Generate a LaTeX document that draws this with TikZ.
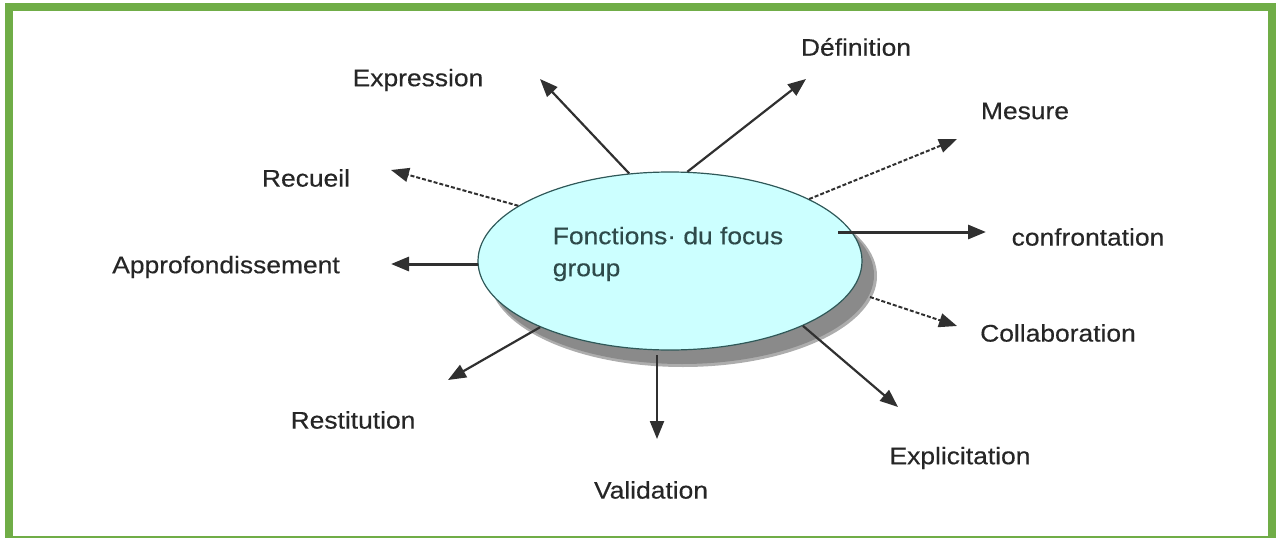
\documentclass[tikz,border=0pt]{standalone}
\usepackage{fontspec}
\setmainfont{Liberation Sans}[FakeStretch=1.1,FakeBold=0.4]
\usetikzlibrary{arrows.meta,shapes.geometric}
\definecolor{framegreen}{HTML}{70AD47}
\definecolor{ellfill}{HTML}{CCFFFF}
\definecolor{elldraw}{HTML}{2F5858}
\definecolor{elltext}{HTML}{2E4A4A}
\definecolor{shadowgray}{HTML}{8A8A8A}
\definecolor{arrowgray}{HTML}{303030}
\tikzset{
  lbl/.style={font=\fontsize{24}{28}\selectfont, text=black!85, inner sep=0pt, anchor=center},
  conn/.style={draw=arrowgray, line width=2.2pt, -{Triangle[length=18pt,width=14pt]}},
  thickconn/.style={conn, line width=3pt},
  dashconn/.style={conn, line width=2pt, dash pattern=on 4pt off 2pt},
}
\begin{document}
\begin{tikzpicture}[x=1pt,y=-1pt]
\useasboundingbox (0,0) rectangle (1278,538);
\begin{scope}
\clip (0,0) rectangle (1278,538);
\draw[framegreen, line width=8pt] (9,7) rectangle (1272,539.5);
\end{scope}
% shadow and ellipse
\node[ellipse, fill=shadowgray!70, minimum width=388pt, minimum height=182pt, inner sep=0pt] (sh0) at (683,276) {};
\node[ellipse, fill=shadowgray, minimum width=384pt, minimum height=178pt, inner sep=0pt] (sh) at (682,275) {};
\node[ellipse, fill=ellfill, draw=elldraw, line width=1.2pt, minimum width=384pt, minimum height=178pt, inner sep=0pt] (e) at (670,261) {};
\node[font=\fontsize{24}{32}\selectfont, text=elltext, align=left, inner sep=0pt] (et) at (668,254) {Fonctions· du focus\\group};
% labels
\node[lbl] (expr) at (418,80) {Expression};
\node[lbl] (def) at (856,47) {Définition};
\node[lbl] (mes) at (1025,111) {Mesure};
\node[lbl] (conf) at (1088,237) {confrontation};
\node[lbl] (coll) at (1058,333) {Collaboration};
\node[lbl] (expl) at (960,458) {Explicitation};
\node[lbl] (val) at (651,490) {Validation};
\node[lbl] (rest) at (353,420) {Restitution};
\node[lbl] (appr) at (226,267) {Approfondissement};
\node[lbl] (rec) at (306,178) {Recueil};
% arrow ends
\coordinate (tExpr) at (540,79);
\coordinate (tDef) at (806,79);
\coordinate (tMes) at (957,139);
\coordinate (tConf) at (986,232);
\coordinate (tColl) at (957,326);
\coordinate (tExpl) at (898,407);
\coordinate (tVal) at (657,439);
\coordinate (tRest) at (448,380);
\coordinate (tAppr) at (391,264);
\coordinate (tRec) at (391,170);
\coordinate (sColl) at (870,297);
\coordinate (sVal) at (657,355);
\coordinate (sConf) at (838,232);
\coordinate (sAppr) at (478,264);
% connectors
\draw[conn] (e.115) -- (tExpr);
\draw[conn] (e.79) -- (tDef);
\draw[dashconn] (e.24) -- (tMes);
\draw[thickconn] (sConf) -- (tConf);
\draw[dashconn] (sColl) -- (tColl);
\draw[conn] (e.-26) -- (tExpl);
\draw[conn] (sVal) -- (tVal);
\draw[conn] (e.-153) -- (tRest);
\draw[thickconn] (sAppr) -- (tAppr);
\draw[dashconn] (e.160) -- (tRec);
\end{tikzpicture}
\end{document}
